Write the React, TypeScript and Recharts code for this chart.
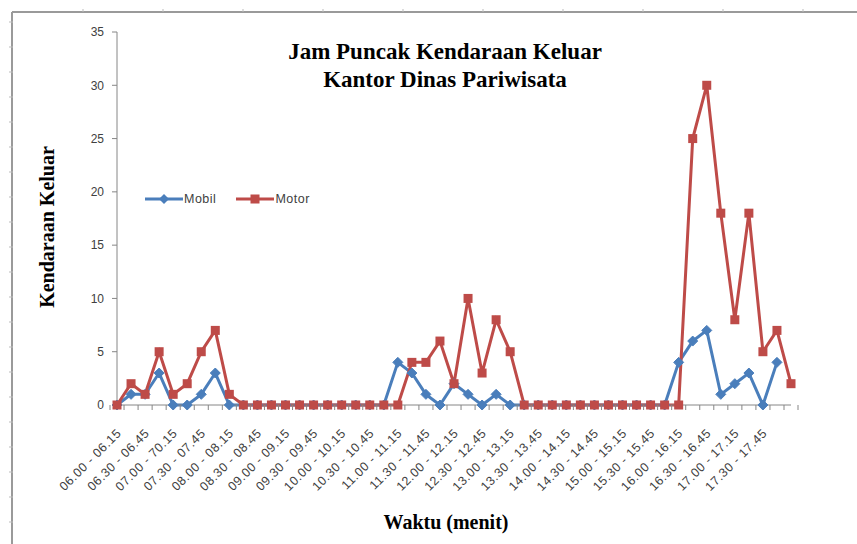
import { LineChart, Line, XAxis, YAxis } from "recharts"

const categories = [
  "06.00 - 06.15", "06.15 - 06.30", "06.30 - 06.45", "06.45 - 07.00",
  "07.00 - 70.15", "07.15 - 07.30", "07.30 - 07.45", "07.45 - 08.00",
  "08.00 - 08.15", "08.15 - 08.30", "08.30 - 08.45", "08.45 - 09.00",
  "09.00 - 09.15", "09.15 - 09.30", "09.30 - 09.45", "09.45 - 10.00",
  "10.00 - 10.15", "10.15 - 10.30", "10.30 - 10.45", "10.45 - 11.00",
  "11.00 - 11.15", "11.15 - 11.30", "11.30 - 11.45", "11.45 - 12.00",
  "12.00 - 12.15", "12.15 - 12.30", "12.30 - 12.45", "12.45 - 13.00",
  "13.00 - 13.15", "13.15 - 13.30", "13.30 - 13.45", "13.45 - 14.00",
  "14.00 - 14.15", "14.15 - 14.30", "14.30 - 14.45", "14.45 - 15.00",
  "15.00 - 15.15", "15.15 - 15.30", "15.30 - 15.45", "15.45 - 16.00",
  "16.00 - 16.15", "16.15 - 16.30", "16.30 - 16.45", "16.45 - 17.00",
  "17.00 - 17.15", "17.15 - 17.30", "17.30 - 17.45", "17.45 - 18.00",
  "18.00 - 18.15",
]

// only every other category gets a label on the axis
const tickLabels = [
  "06.00 - 06.15", "06.30 - 06.45", "07.00 - 70.15", "07.30 - 07.45",
  "08.00 - 08.15", "08.30 - 08.45", "09.00 - 09.15", "09.30 - 09.45",
  "10.00 - 10.15", "10.30 - 10.45", "11.00 - 11.15", "11.30 - 11.45",
  "12.00 - 12.15", "12.30 - 12.45", "13.00 - 13.15", "13.30 - 13.45",
  "14.00 - 14.15", "14.30 - 14.45", "15.00 - 15.15", "15.30 - 15.45",
  "16.00 - 16.15", "16.30 - 16.45", "17.00 - 17.15", "17.30 - 17.45",
]

const mobil = [
  0, 1, 1, 3, 0, 0, 1, 3, 0, 0,
  0, 0, 0, 0, 0, 0, 0, 0, 0, 0,
  4, 3, 1, 0, 2, 1, 0, 1, 0, 0,
  0, 0, 0, 0, 0, 0, 0, 0, 0, 0,
  4, 6, 7, 1, 2, 3, 0, 4, null,
]

const motor = [
  0, 2, 1, 5, 1, 2, 5, 7, 1, 0,
  0, 0, 0, 0, 0, 0, 0, 0, 0, 0,
  0, 4, 4, 6, 2, 10, 3, 8, 5, 0,
  0, 0, 0, 0, 0, 0, 0, 0, 0, 0,
  0, 25, 30, 18, 8, 18, 5, 7, 2,
]

const yTicks = [0, 5, 10, 15, 20, 25, 30, 35]

const data = categories.map((waktu, i) => ({ waktu, mobil: mobil[i], motor: motor[i] }))

const BLUE = "#4A7EBB"
const RED = "#BE4B48"
const AXIS = "#868686"
const TEXT = "#404040"
const SANS = "'Liberation Sans', Arial, sans-serif"
const SERIF = "'Liberation Serif', 'Times New Roman', serif"

function XTick(props: any) {
  const { x, y, payload, index } = props
  const half = payload.offset || 7
  const lx = x + 5
  const ly = y + 29
  return (
    <g>
      <line x1={x - half} x2={x - half} y1={y} y2={y + 5} stroke={AXIS} />
      {index === categories.length - 1 && (
        <line x1={x + half} x2={x + half} y1={y} y2={y + 5} stroke={AXIS} />
      )}
      {tickLabels.includes(payload.value) && (
        <text
          x={lx}
          y={ly}
          transform={`rotate(-45 ${lx} ${ly})`}
          textAnchor="end"
          fontSize={12.5}
          letterSpacing={0.6}
          fontFamily={SANS}
          fill={TEXT}
        >
          {payload.value}
        </text>
      )}
    </g>
  )
}

function Diamond(props: any) {
  const { cx, cy, index } = props
  if (cy == null || cx == null) return <g key={`d-${index}`} />
  const r = 5
  return (
    <polygon
      key={`d-${index}`}
      points={`${cx},${cy - r} ${cx + r},${cy} ${cx},${cy + r} ${cx - r},${cy}`}
      fill={BLUE}
      stroke={BLUE}
    />
  )
}

function Square(props: any) {
  const { cx, cy, index } = props
  if (cy == null || cx == null) return <g key={`s-${index}`} />
  return <rect key={`s-${index}`} x={cx - 4.5} y={cy - 4.5} width={9} height={9} fill={RED} />
}

function LegendBox() {
  const item = (label: string, color: string, square: boolean) => (
    <div style={{ display: "flex", alignItems: "center", marginRight: 20 }}>
      <svg width={38} height={12}>
        <line x1={0} x2={38} y1={6} y2={6} stroke={color} strokeWidth={3} />
        {square ? (
          <rect x={14.5} y={1.5} width={9} height={9} fill={color} />
        ) : (
          <polygon points="19,1 24,6 19,11 14,6" fill={color} />
        )}
      </svg>
      <span style={{ fontFamily: SANS, fontSize: 12.5, color: TEXT, marginLeft: 1, letterSpacing: 0.5 }}>
        {label}
      </span>
    </div>
  )
  return (
    <div style={{ display: "flex" }}>
      {item("Mobil", BLUE, false)}
      {item("Motor", RED, true)}
    </div>
  )
}

export default function App() {
  const topTicks = Array.from({ length: 11 }, (_, i) => 83 + i * 80)
  const leftTicks = Array.from({ length: 22 }, (_, i) => 22 + i * 25)
  return (
    <div style={{ position: "absolute", left: 0, top: 0, width: 857, height: 544, background: "#fff" }}>
      <svg width={857} height={544} style={{ position: "absolute", left: 0, top: 0 }}>
        <line x1={12} x2={857} y1={12} y2={12} stroke="#9a9a9a" strokeWidth={2} />
        <line x1={12} x2={12} y1={12} y2={544} stroke="#9a9a9a" strokeWidth={2} />
        {topTicks.map((t) => (
          <line key={`t${t}`} x1={t} x2={t} y1={9} y2={12} stroke="#bbb" />
        ))}
        {leftTicks.map((t) => (
          <line key={`l${t}`} x1={9} x2={13} y1={t} y2={t} stroke="#bbb" />
        ))}
      </svg>
      <div style={{ position: "absolute", left: 0, top: 0 }}>
        <LineChart
          width={857}
          height={544}
          data={data}
          margin={{ top: 32, right: 66, bottom: 39, left: 77 }}
        >
          <XAxis
            dataKey="waktu"
            interval={0}
            height={100}
            tickLine={false}
            tickSize={0}
            tickMargin={0}
            axisLine={{ stroke: AXIS }}
            tick={<XTick />}
          />
          <YAxis
            width={40}
            domain={[0, 35]}
            ticks={yTicks}
            interval={0}
            tickSize={5}
            tickMargin={8}
            tickLine={{ stroke: AXIS }}
            axisLine={{ stroke: AXIS }}
            tick={{ fontSize: 12, fontFamily: SANS, fill: TEXT }}
          />
          <Line
            dataKey="mobil"
            name="Mobil"
            stroke={BLUE}
            strokeWidth={3}
            dot={<Diamond />}
            activeDot={false}
            isAnimationActive={false}
          />
          <Line
            dataKey="motor"
            name="Motor"
            stroke={RED}
            strokeWidth={3}
            dot={<Square />}
            activeDot={false}
            isAnimationActive={false}
          />
        </LineChart>
      </div>
      <div style={{ position: "absolute", left: 145, top: 192 }}>
        <LegendBox />
      </div>
      <div
        style={{
          position: "absolute",
          left: 245,
          top: 38,
          width: 400,
          textAlign: "center",
          fontFamily: SERIF,
          fontWeight: "bold",
          fontSize: 23,
          lineHeight: "28px",
          color: "#000",
        }}
      >
        Jam Puncak Kendaraan Keluar
        <br />
        Kantor Dinas Pariwisata
      </div>
      <div
        style={{
          position: "absolute",
          left: 47,
          top: 227,
          transform: "translate(-50%, -50%) rotate(-90deg)",
          whiteSpace: "nowrap",
          fontFamily: SERIF,
          fontWeight: "bold",
          fontSize: 20,
          color: "#000",
        }}
      >
        Kendaraan Keluar
      </div>
      <div
        style={{
          position: "absolute",
          left: 446,
          top: 522,
          transform: "translate(-50%, -50%)",
          whiteSpace: "nowrap",
          fontFamily: SERIF,
          fontWeight: "bold",
          fontSize: 20,
          color: "#000",
        }}
      >
        Waktu (menit)
      </div>
    </div>
  )
}
